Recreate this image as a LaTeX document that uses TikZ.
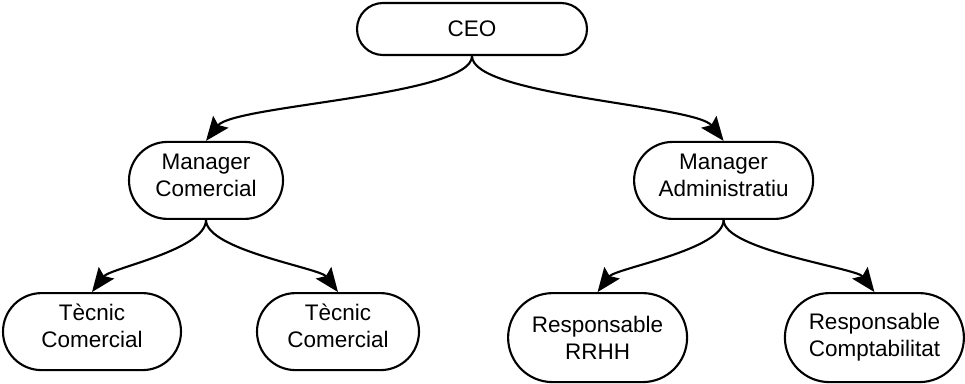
\documentclass[tikz,border=0pt]{standalone}
\usepackage{fontspec}
\setmainfont{Liberation Sans}
\usetikzlibrary{arrows.meta,shapes.misc}

\begin{document}
\begin{tikzpicture}[
  role/.style={draw, rounded rectangle, line width=1.5pt, fill=white, align=center, inner sep=0pt, font=\fontsize{16}{19.2}\selectfont},
  link/.style={line width=1.5pt, -{Stealth[length=0.6cm, width=0.48cm, inset=0.1cm]}}
]
\useasboundingbox (0,0) rectangle (24.125,-9.575);
\node[role, minimum width=5.75cm, minimum height=1.3cm] (ceo) at (11.8,-0.725) {CEO};
\node[role, minimum width=3.85cm, minimum height=1.925cm, text depth=0.25cm] (mancom) at (5.15,-4.51) {Manager\\Comercial};
\node[role, minimum width=4.475cm, minimum height=1.925cm, text depth=0.25cm] (manadm) at (18.09,-4.51) {Manager\\Administratiu};
\node[role, minimum width=4.45cm, minimum height=1.925cm, text depth=0.3cm] (tec1) at (2.3,-8.29) {Tècnic\\Comercial};
\node[role, minimum width=4.05cm, minimum height=1.925cm, text depth=0.3cm] (tec2) at (8.45,-8.29) {Tècnic\\Comercial};
\node[role, minimum width=4.475cm, minimum height=2.225cm] (rrhh) at (14.94,-8.44) {Responsable\\RRHH};
\node[role, minimum width=4.475cm, minimum height=2.225cm] (compt) at (21.86,-8.44) {Responsable\\Comptabilitat};
\draw[link] (ceo.south) .. controls +(0,-1.0) and +(0.7,0.9) .. (mancom.north);
\draw[link] (ceo.south) .. controls +(0,-1.0) and +(-0.7,0.9) .. (manadm.north);
\draw[link] (mancom.south) .. controls +(0,-0.75) and +(0.45,0.6) .. (tec1.north);
\draw[link] (mancom.south) .. controls +(0,-0.75) and +(-0.45,0.6) .. (tec2.north);
\draw[link] (manadm.south) .. controls +(0,-0.75) and +(0.45,0.6) .. (rrhh.north);
\draw[link] (manadm.south) .. controls +(0,-0.75) and +(-0.45,0.6) .. (compt.north);
\end{tikzpicture}
\end{document}
